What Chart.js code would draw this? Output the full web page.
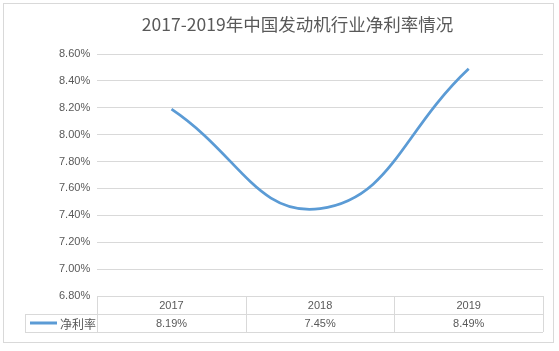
<!DOCTYPE html>
<html>
<head>
<meta charset="utf-8">
<script src="https://cdn.jsdelivr.net/npm/chart.js@4.4.1/dist/chart.umd.min.js"></script>
<style>
  html, body { margin: 0; padding: 0; background: #ffffff; }
  #wrap { width: 559px; height: 351px; position: relative; }
  canvas { display: block; }
</style>
</head>
<body>
<div id="wrap"><canvas id="c" width="559" height="351"></canvas></div>
<script>
const title = '2017-2019年中国发动机行业净利率情况';
const categories = ['2017', '2018', '2019'];
const seriesName = '净利率';
const netMargin = [8.19, 7.45, 8.49];
const yMin = 6.8, yMax = 8.6, yStep = 0.2;

const GRID = '#d9d9d9';
const TEXT = '#595959';
const LINE = '#5B9BD5';
const FONT = "'Liberation Sans', 'Noto Sans CJK SC', sans-serif";
const CJK = "'Noto Sans CJK SC', sans-serif";

const tablePlugin = {
  id: 'dataTable',
  afterDraw(chart) {
    const ctx = chart.ctx;
    const a = chart.chartArea;
    const xs = chart.scales.x;
    const n = categories.length;
    const colW = (a.right - a.left) / n;
    const top = a.bottom;
    const mid = top + 18;
    const bot = mid + 18;
    const legendLeft = 25;
    ctx.save();
    ctx.strokeStyle = GRID;
    ctx.lineWidth = 1;
    ctx.beginPath();
    ctx.moveTo(a.left, Math.round(top) + 0.5); ctx.lineTo(a.right, Math.round(top) + 0.5);
    ctx.moveTo(legendLeft, Math.round(mid) + 0.5); ctx.lineTo(a.right, Math.round(mid) + 0.5);
    ctx.moveTo(legendLeft, Math.round(bot) + 0.5); ctx.lineTo(a.right, Math.round(bot) + 0.5);
    for (let i = 0; i <= n; i++) {
      const x = Math.round(a.left + i * colW) + 0.5;
      ctx.moveTo(x, top); ctx.lineTo(x, bot);
    }
    ctx.moveTo(legendLeft + 0.5, mid); ctx.lineTo(legendLeft + 0.5, bot);
    ctx.stroke();

    ctx.fillStyle = TEXT;
    ctx.textAlign = 'center';
    ctx.textBaseline = 'middle';
    ctx.font = '11px ' + FONT;
    categories.forEach((c, i) => {
      const x = xs.getPixelForValue(i);
      ctx.fillText(c, x, (top + mid) / 2 + 1);
      ctx.fillText(netMargin[i].toFixed(2) + '%', x, (mid + bot) / 2 + 1);
    });
    ctx.strokeStyle = LINE;
    ctx.lineWidth = 3;
    ctx.beginPath();
    ctx.moveTo(30, (mid + bot) / 2);
    ctx.lineTo(57, (mid + bot) / 2);
    ctx.stroke();
    ctx.textAlign = 'left';
    ctx.font = '12px ' + CJK;
    ctx.fillText(seriesName, 60, (mid + bot) / 2 + 1);

    ctx.strokeStyle = GRID;
    ctx.lineWidth = 1;
    ctx.strokeRect(3.5, 3.5, 550, 339);
    ctx.restore();
  }
};

new Chart(document.getElementById('c'), {
  type: 'line',
  data: {
    labels: categories,
    datasets: [{
      label: seriesName,
      data: netMargin,
      borderColor: LINE,
      backgroundColor: LINE,
      borderWidth: 2.75,
      pointRadius: 0,
      tension: 0.45,
      fill: false
    }]
  },
  options: {
    responsive: false,
    animation: false,
    devicePixelRatio: 1,
    layout: { padding: { left: 52, right: 16, top: 0, bottom: 55 } },
    plugins: {
      legend: { display: false },
      tooltip: { enabled: false },
      title: {
        display: true,
        text: title,
        color: TEXT,
        font: { family: CJK, size: 17.5, weight: 'normal' },
        padding: { top: 13.5, bottom: 19.5 }
      }
    },
    scales: {
      x: {
        type: 'category',
        offset: true,
        display: false
      },
      y: {
        min: yMin,
        max: yMax,
        border: { display: false },
        grid: { color: GRID, drawTicks: false },
        ticks: {
          stepSize: yStep,
          padding: 7,
          color: TEXT,
          font: { family: FONT, size: 11 },
          callback: v => v.toFixed(2) + '%'
        }
      }
    }
  },
  plugins: [tablePlugin]
});
</script>
</body>
</html>
